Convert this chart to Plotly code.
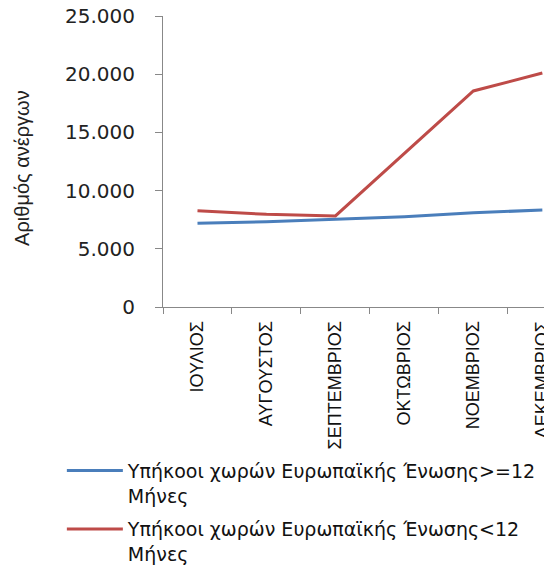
import plotly.graph_objects as go

months = ["ΙΟΥΛΙΟΣ", "ΑΥΓΟΥΣΤΟΣ", "ΣΕΠΤΕΜΒΡΙΟΣ", "ΟΚΤΩΒΡΙΟΣ", "ΝΟΕΜΒΡΙΟΣ", "ΔΕΚΕΜΒΡΙΟΣ"]
eu_ge12 = [7200, 7330, 7530, 7760, 8100, 8330]
eu_lt12 = [8270, 7960, 7820, 13200, 18560, 20100]
name_ge12 = "Υπήκοοι χωρών Ευρωπαϊκής Ένωσης>=12<br>Μήνες"
name_lt12 = "Υπήκοοι χωρών Ευρωπαϊκής Ένωσης<12<br>Μήνες"
y_title = "Αριθμός ανέργων"

fig = go.Figure()
fig.add_trace(go.Scatter(x=months, y=eu_ge12, mode="lines", name=name_ge12,
                         legendgroup="a",
                         line=dict(color="#4A7EBB", width=3)))
fig.add_trace(go.Scatter(x=months, y=eu_lt12, mode="lines", name=name_lt12,
                         legendgroup="b",
                         line=dict(color="#BE4B48", width=3)))

fig.update_layout(
    width=552, height=566,
    margin=dict(l=155, r=8, t=8, b=267, autoexpand=False),
    paper_bgcolor="white", plot_bgcolor="white",
    separators=",.",
    font=dict(family="DejaVu Sans", color="#222222"),
    showlegend=True,
    legend=dict(x=-0.26, y=-0.497, xanchor="left", yanchor="top",
                font=dict(family="DejaVu Sans", size=19, color="#111111"),
                itemwidth=56, valign="top",
                tracegroupgap=6, bgcolor="rgba(0,0,0,0)"),
    annotations=[dict(text=y_title, xref="paper", yref="paper",
                      x=-0.3625, y=0.478, xanchor="center", yanchor="middle",
                      textangle=-90, showarrow=False,
                      font=dict(family="Liberation Sans Narrow, Liberation Sans", size=20, color="#222222"))],
)
fig.update_yaxes(range=[0, 25000], dtick=5000, tickformat=",d",
                 showgrid=False, zeroline=False, automargin=False,
                 ticklabeloverflow="allow", ticklabelstandoff=16,
                 showline=True, linecolor="#888888", linewidth=1,
                 ticks="outside", ticklen=7, tickcolor="#888888",
                 tickfont=dict(family="DejaVu Sans", size=20, color="#222222"))
fig.update_xaxes(type="category", range=[-0.5, 5.14], tickson="boundaries",
                 showgrid=False, zeroline=False, automargin=False,
                 ticklabeloverflow="allow", ticklabelstandoff=6,
                 showline=True, linecolor="#888888", linewidth=1,
                 ticks="outside", ticklen=6, tickcolor="#888888",
                 tickangle=-90,
                 tickfont=dict(family="Liberation Sans Narrow, Liberation Sans", size=18, color="#111111"))

fig.write_html("out.html")
